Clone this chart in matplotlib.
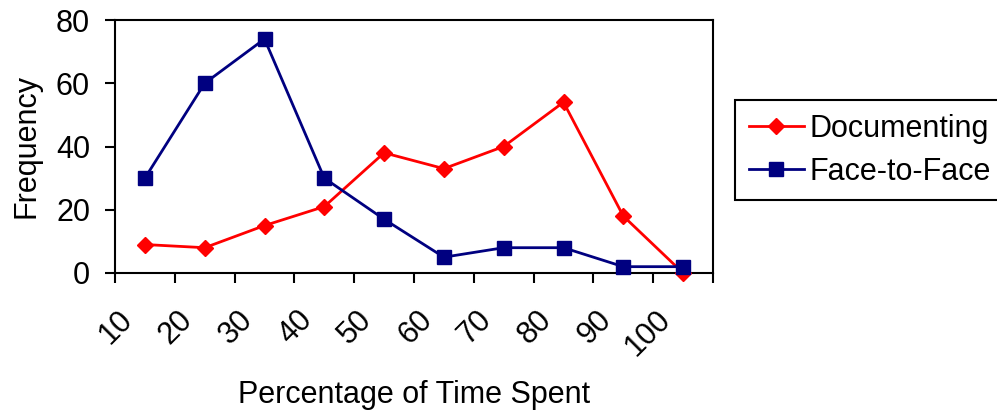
import matplotlib
matplotlib.use("Agg")
import matplotlib.pyplot as plt
import matplotlib.transforms as mtransforms
import numpy as np

categories = ["10", "20", "30", "40", "50", "60", "70", "80", "90", "100"]
documenting = [9, 8, 15, 21, 38, 33, 40, 54, 18, 0]
face_to_face = [30, 60, 74, 30, 17, 5, 8, 8, 2, 2]

plt.rcParams['font.family'] = ['Liberation Sans', 'DejaVu Sans']
FS = 22

fig = plt.figure(figsize=(9.97, 4.16), dpi=100)
ax = fig.add_axes([115/997, 1-273/416, 598/997, 253/416])

x = np.arange(len(categories))
ax.plot(x, documenting, color='#FF0000', lw=2, marker='D', markersize=8.5,
        label='Documenting', clip_on=False, zorder=3)
ax.plot(x, face_to_face, color='#000080', lw=2, marker='s', markersize=10,
        label='Face-to-Face', clip_on=False, zorder=3)

ax.set_xlim(-0.5, len(categories) - 0.5)
ax.set_ylim(0, 80)
ax.set_yticks([0, 20, 40, 60, 80])
ax.tick_params(axis='y', direction='out', length=7, width=1.5, labelsize=FS, pad=11)

ax.set_xticks(x)
ax.set_xticklabels(categories, rotation=45, ha='right', va='top',
                   rotation_mode='anchor', fontsize=FS)
ax.set_xticks(np.arange(-0.5, len(categories)), minor=True)
ax.tick_params(axis='x', which='major', length=0, pad=23)
ax.tick_params(axis='x', which='minor', direction='out', length=7, width=1.5)
offset = mtransforms.ScaledTranslation(-27/100, 0, fig.dpi_scale_trans)
for lbl in ax.get_xticklabels():
    lbl.set_transform(lbl.get_transform() + offset)

for s in ax.spines.values():
    s.set_linewidth(1.5)
    s.set_color('black')

ax.set_xlabel('Percentage of Time Spent', fontsize=FS, labelpad=13)
ax.set_ylabel('Frequency', fontsize=FS, labelpad=10)

leg = fig.legend(loc='upper left', bbox_to_anchor=(735/997, 1-100/416),
                 fontsize=FS, frameon=True, fancybox=False, framealpha=1,
                 edgecolor='black', handlelength=1.8, handletextpad=0.2,
                 borderpad=0.45, labelspacing=0.42, borderaxespad=0)
leg.get_frame().set_linewidth(1.5)

fig.savefig('out.png', dpi=100)
